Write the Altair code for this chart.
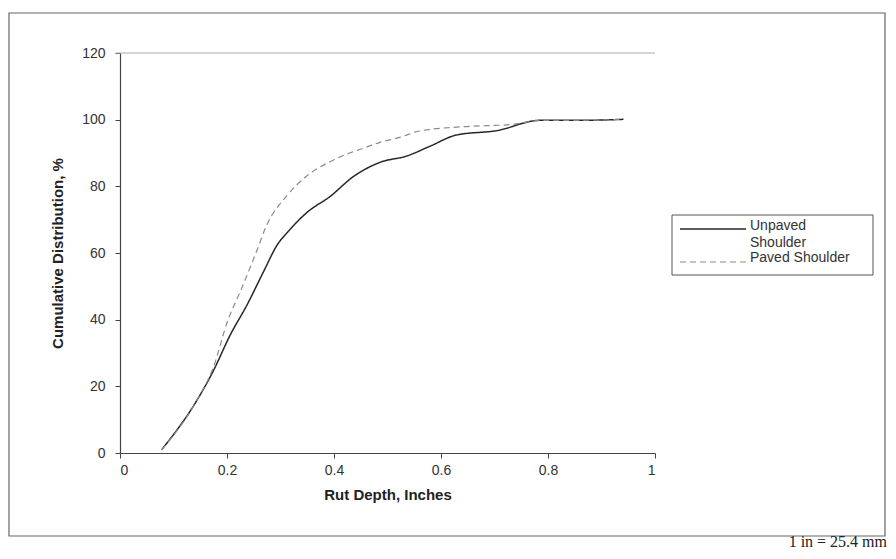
import altair as alt
import pandas as pd

# ---- data ----
series_names = ["Unpaved Shoulder", "Paved Shoulder"]

unpaved_x = [0.078, 0.143, 0.174, 0.206, 0.237, 0.268, 0.293, 0.318, 0.349, 0.393,
             0.436, 0.486, 0.536, 0.579, 0.629, 0.704, 0.785, 0.86, 0.941]
unpaved_y = [1.0, 15.6, 24.5, 35.4, 44.3, 54.3, 62.2, 67.1, 72.1, 77.0,
             82.9, 87.2, 89.1, 92.0, 95.4, 96.7, 99.8, 99.8, 100.1]

paved_x = [0.078, 0.143, 0.174, 0.202, 0.225, 0.255, 0.274, 0.312, 0.349, 0.399,
           0.461, 0.486, 0.523, 0.560, 0.642, 0.735, 0.785, 0.86, 0.941]
paved_y = [1.0, 15.6, 25.5, 40.0, 48.5, 60.4, 68.3, 77.2, 83.1, 87.9,
           91.8, 93.2, 94.7, 96.6, 97.9, 98.6, 99.8, 99.8, 100.1]

x_ticks = [0, 0.2, 0.4, 0.6, 0.8, 1]
y_ticks = [0, 20, 40, 60, 80, 100, 120]

x_title = "Rut Depth, Inches"
y_title = "Cumulative Distribution, %"
legend_lines = ["Unpaved", "Shoulder", "Paved Shoulder"]
note = "1 in = 25.4 mm"

df = pd.concat([
    pd.DataFrame({"depth": unpaved_x, "pct": unpaved_y, "series": series_names[0]}),
    pd.DataFrame({"depth": paved_x, "pct": paved_y, "series": series_names[1]}),
], ignore_index=True)

W, H = 535, 400
SANS = "Liberation Sans"
INK = "#333333"

x_enc = alt.X("depth:Q", scale=alt.Scale(domain=[0, 1], nice=False, zero=False),
              axis=alt.Axis(values=x_ticks, format="~g", title=x_title, grid=False,
                            tickSize=5, labelPadding=5, titlePadding=10,
                            labelFont=SANS, labelFontSize=14, labelColor=INK,
                            titleFont=SANS, titleFontSize=15, titleFontWeight="bold",
                            titleColor="#222222", domainColor="#444444", tickColor="#444444",
                            domainWidth=1.2))
y_enc = alt.Y("pct:Q", scale=alt.Scale(domain=[0, 120], nice=False),
              axis=alt.Axis(values=y_ticks, title=y_title, grid=False,
                            tickSize=5, labelPadding=10, titlePadding=16,
                            labelFont=SANS, labelFontSize=14, labelColor=INK,
                            titleFont=SANS, titleFontSize=15, titleFontWeight="bold",
                            titleColor="#222222", domainColor="#444444", tickColor="#444444",
                            domainWidth=1.2))

lines = alt.Chart(df).mark_line(interpolate="monotone").encode(
    x=x_enc,
    y=y_enc,
    color=alt.Color("series:N", scale=alt.Scale(domain=series_names, range=["#262626", "#8a8a8a"]), legend=None),
    strokeDash=alt.StrokeDash("series:N", scale=alt.Scale(domain=series_names, range=[[1, 0], [6, 4]]), legend=None),
    strokeWidth=alt.StrokeWidth("series:N", scale=alt.Scale(domain=series_names, range=[1.5, 1.2]), legend=None),
    order=alt.Order("depth:Q"),
)

one = alt.Data(values=[{}])

# outer frame around the whole figure
frame = alt.Chart(one).mark_rect(fillOpacity=0, stroke="#666666", strokeWidth=1.2).encode(
    x=alt.value(-111), x2=alt.value(765), y=alt.value(-40), y2=alt.value(483))

# light top border of plot area
top_line = alt.Chart(one).mark_rule(color="#aaaaaa", strokeWidth=1).encode(
    x=alt.value(-4), x2=alt.value(W), y=alt.value(0))

# legend
leg_box = alt.Chart(one).mark_rect(fillOpacity=0, stroke="#555555", strokeWidth=1).encode(
    x=alt.value(552), x2=alt.value(753), y=alt.value(162), y2=alt.value(222))
leg_solid = alt.Chart(one).mark_rule(color="#262626", strokeWidth=1.5).encode(
    x=alt.value(560), x2=alt.value(626), y=alt.value(176))
leg_dash = alt.Chart(one).mark_rule(color="#8a8a8a", strokeWidth=1.2, strokeDash=[6, 4]).encode(
    x=alt.value(560), x2=alt.value(626), y=alt.value(209))

def leg_text(txt, yy):
    return alt.Chart(one).mark_text(text=txt, align="left", baseline="middle", font=SANS,
                                    fontSize=14, color=INK).encode(x=alt.value(630), y=alt.value(yy))

t1 = leg_text(legend_lines[0], 173)
t2 = leg_text(legend_lines[1], 190)
t3 = leg_text(legend_lines[2], 205)

note_txt = alt.Chart(one).mark_text(text=note, align="right", baseline="middle",
                                    font="Liberation Serif", fontSize=16, color="#222222").encode(
    x=alt.value(767), y=alt.value(489))

chart = alt.layer(frame, top_line, lines, leg_box, leg_solid, leg_dash, t1, t2, t3, note_txt).properties(
    width=W, height=H,
    background="white",
    autosize=alt.AutoSizeParams(type="none"),
    padding={"left": 112, "top": 45, "right": 233, "bottom": 98},
).configure_view(stroke=None)

chart.save("out.html", embed_options={"renderer": "svg", "actions": False})
